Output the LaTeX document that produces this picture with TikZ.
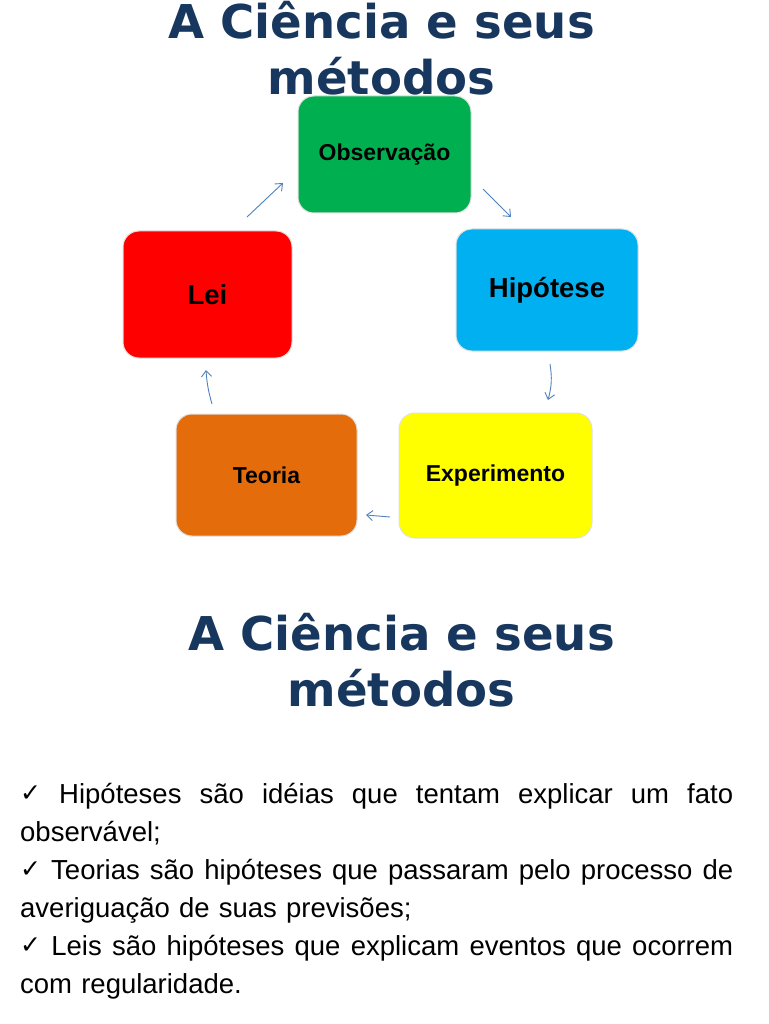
\documentclass[tikz,border=0pt]{standalone}
\usepackage{fontspec}
\setmainfont{Liberation Sans}
\newfontfamily\titlefont{DejaVu Sans}
\newfontfamily\symfont{DejaVu Sans}
\usetikzlibrary{arrows.meta}
\definecolor{navy}{HTML}{17375E}
\definecolor{obsgreen}{HTML}{00B050}
\definecolor{hipblue}{HTML}{00B0F0}
\definecolor{expyellow}{HTML}{FFFF00}
\definecolor{teoorange}{HTML}{E46C0A}
\definecolor{leired}{HTML}{FF0000}
\definecolor{arrowblue}{HTML}{4F81BD}
\newcommand{\chk}{\raisebox{2pt}{\symfont\bfseries\fontsize{25}{25}\selectfont ✓}}
\newcommand{\fullline}[1]{\leavevmode\hbox to 713pt{#1}}
\begin{document}
\begin{tikzpicture}[x=1pt,y=-1pt,
  stagebox/.style={rounded corners=16pt, draw=black!12, line width=1pt, inner sep=0pt,
    font=\bfseries\fontsize{23}{27}\selectfont, text=black},
  bigtext/.style={font=\bfseries\fontsize{27.5}{32}\selectfont},
  titletext/.style={align=center, text=navy, inner sep=0pt,
    font=\titlefont\bfseries\fontsize{46.6}{56}\selectfont},
  cyclearrow/.style={draw=arrowblue, line width=0.9pt, -{Straight Barb[length=6pt,width=10pt]}}]
\useasboundingbox (0,0) rectangle (768,1024);
\fill[white] (0,0) rectangle (768,1024);

% top title
\node[titletext, anchor=base] (title1) at (381.5,95) {A Ciência e seus\\métodos};

% stages
\node[stagebox, fill=obsgreen, minimum width=173pt, minimum height=117pt] (obs) at (384.5,154.5) {\raisebox{-2pt}{Observação}};
\node[stagebox, bigtext, fill=hipblue, minimum width=182pt, minimum height=122pt] (hip) at (547,290) {\raisebox{-2pt}{Hipótese}};
\node[stagebox, fill=expyellow, minimum width=193pt, minimum height=125pt] (exp) at (495.5,475.5) {Experimento};
\node[stagebox, fill=teoorange, minimum width=181pt, minimum height=122pt] (teo) at (266.5,475) {Teoria};
\node[stagebox, bigtext, fill=leired, minimum width=169pt, minimum height=127pt] (lei) at (207.5,294.5) {Lei};

% arrow ends
\coordinate (a1s) at (247,217); \coordinate (a1e) at (283,183);
\coordinate (a2s) at (483,189); \coordinate (a2e) at (511,217);
\coordinate (a3s) at (550,364); \coordinate (a3e) at (548,400);
\coordinate (a4s) at (390,517); \coordinate (a4e) at (366,515);
\coordinate (a5s) at (212,404); \coordinate (a5e) at (206,370);
\draw[cyclearrow] (a1s) -- (a1e);
\draw[cyclearrow] (a2s) -- (a2e);
\draw[cyclearrow] (a3s) to[bend left=12] (a3e);
\draw[cyclearrow] (a4s) -- (a4e);
\draw[cyclearrow] (a5s) to[bend left=6] (a5e);

% second title
\node[titletext, anchor=base] (title2) at (401.5,706) {A Ciência e seus\\métodos};

% bullet text
\node[anchor=north west, inner sep=0pt, text width=713pt, align=left,
      font=\fontsize{27.5}{38}\selectfont] (bullets) at (20,783)
{\fullline{\chk\hfill Hipóteses\hfill são\hfill idéias\hfill que\hfill tentam\hfill explicar\hfill um\hfill fato}\\
observável;\\
\fullline{\chk\hfill Teorias\hfill são\hfill hipóteses\hfill que\hfill passaram\hfill pelo\hfill processo\hfill de}\\
averiguação de suas previsões;\\
\fullline{\chk\hfill Leis\hfill são\hfill hipóteses\hfill que\hfill explicam\hfill eventos\hfill que\hfill ocorrem}\\
com regularidade.};
\end{tikzpicture}
\end{document}
